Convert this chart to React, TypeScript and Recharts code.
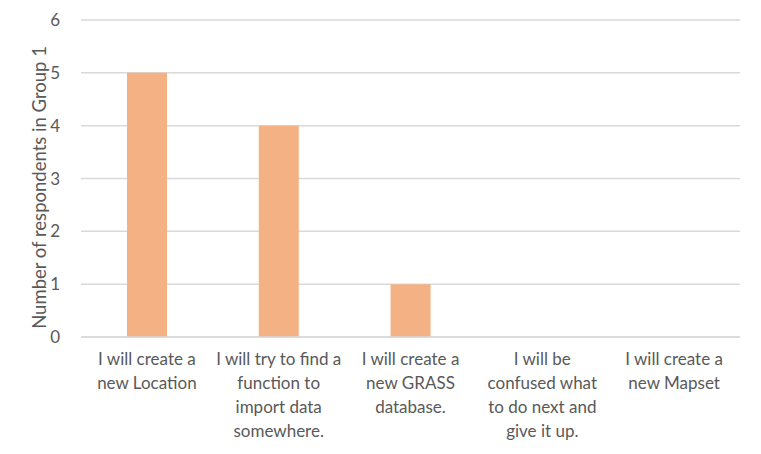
import { BarChart, Bar, XAxis, YAxis, CartesianGrid } from 'recharts'

const CATEGORIES = ['new-location', 'find-function', 'grass-db', 'confused', 'new-mapset']

const CATEGORY_LINES: string[][] = [
  ['I will create a', 'new Location'],
  ['I will try to find a', 'function to', 'import data', 'somewhere.'],
  ['I will create a', 'new GRASS', 'database.'],
  ['I will be', 'confused what', 'to do next and', 'give it up.'],
  ['I will create a', 'new Mapset'],
]

const RESPONDENTS = [5, 4, 1, 0, 0]

const Y_TICKS = [0, 1, 2, 3, 4, 5, 6]

const Y_TITLE = 'Number of respondents in Group 1'

const TEXT_COLOR = '#595959'
const GRID_COLOR = '#D9D9D9'
const BAR_COLOR = '#F4B183'
const FONT = 'Lato, "Open Sans", sans-serif'

const data = CATEGORIES.map((key, i) => ({
  key,
  value: RESPONDENTS[i],
}))

function CategoryTick(props: any): React.ReactElement {
  const { x, y, payload } = props
  const lines = CATEGORY_LINES[payload.index] ?? []
  return (
    <text x={x} y={y} textAnchor="middle" fill={TEXT_COLOR} fontSize={17} fontFamily={FONT}>
      {lines.map((line, i) => (
        <tspan key={i} x={x} dy={i === 0 ? 26 : 24}>
          {line}
        </tspan>
      ))}
    </text>
  )
}

function YTitle(props: any): React.ReactElement {
  const { viewBox } = props
  const cy = viewBox.y + viewBox.height / 2 + 9
  const cx = 39
  return (
    <text
      x={cx}
      y={cy}
      transform={`rotate(-90, ${cx}, ${cy})`}
      textAnchor="middle"
      dominantBaseline="central"
      fill={TEXT_COLOR}
      fontSize={18.5}
      fontFamily={FONT}
    >
      {Y_TITLE}
    </text>
  )
}

export default function App(): React.ReactElement {
  return (
    <div style={{ position: 'absolute', left: 0, top: 0, width: 761, height: 454, background: '#fff' }}>
      <BarChart
        width={761}
        height={454}
        data={data}
        margin={{ top: 20, right: 21, bottom: 0, left: 20 }}
      >
        <CartesianGrid vertical={false} stroke={GRID_COLOR} strokeWidth={1.5} />
        <XAxis
          dataKey="key"
          tickLine={false}
          axisLine={{ stroke: GRID_COLOR, strokeWidth: 1.5 }}
          tick={<CategoryTick />}
          interval={0}
          height={117}
          tickSize={0}
        />
        <YAxis
          domain={[0, 6]}
          ticks={Y_TICKS}
          axisLine={false}
          tickLine={false}
          tickSize={0}
          tickMargin={21}
          width={61}
          tick={{ fill: TEXT_COLOR, fontSize: 17, fontFamily: FONT }}
          label={<YTitle />}
        />
        <Bar dataKey="value" fill={BAR_COLOR} barSize={40} isAnimationActive={false} />
      </BarChart>
    </div>
  )
}
